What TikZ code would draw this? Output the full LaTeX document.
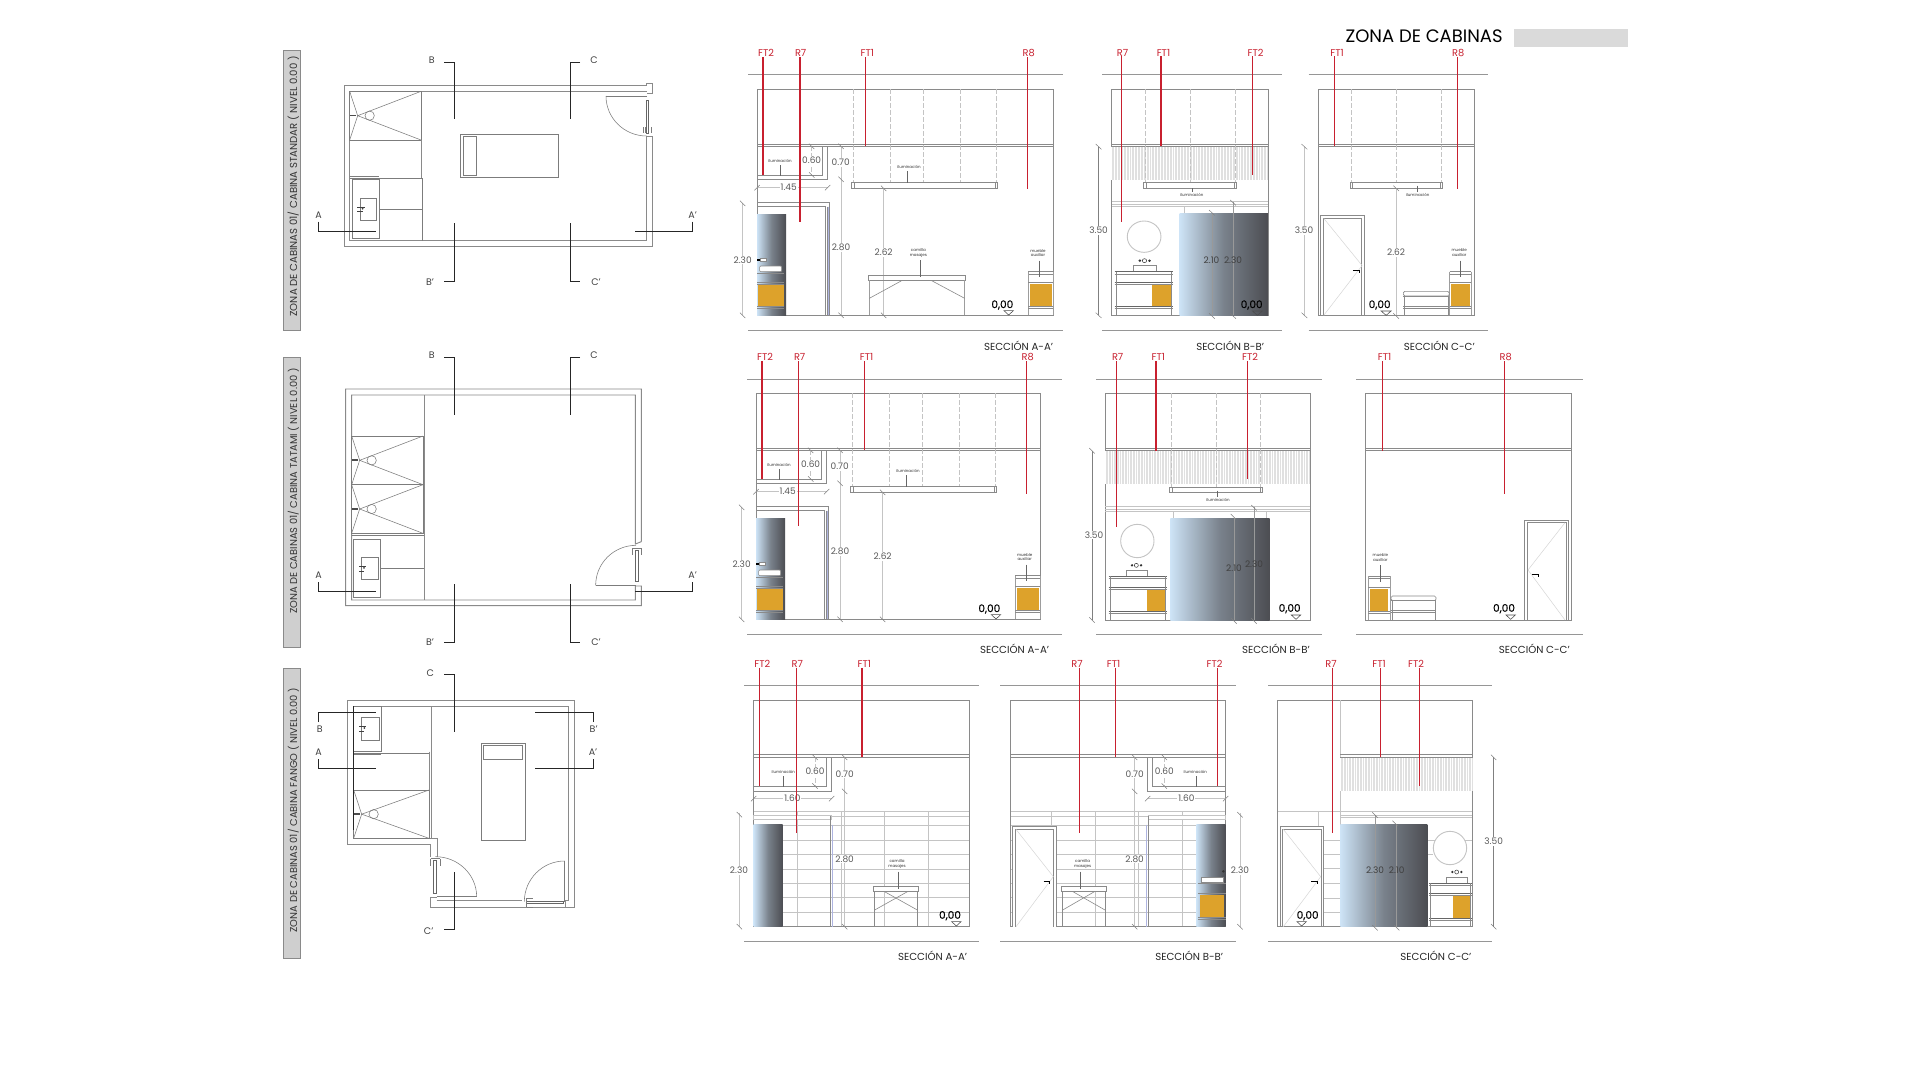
\documentclass[tikz,border=0pt]{standalone}
\usepackage{fontspec}
\setmainfont{Poppins}
\newfontfamily\levelfont[FakeBold=0.6]{Poppins}
\definecolor{wallgray}{HTML}{8A8A8A}
\definecolor{lightgray2}{HTML}{C4C4C4}
\definecolor{boxgray}{HTML}{CFCFCF}
\definecolor{titlegray}{HTML}{DADADA}
\definecolor{redmark}{HTML}{C8202F}
\definecolor{ochre}{HTML}{DDA22B}
\definecolor{glassblue}{HTML}{CDE3F6}
\definecolor{glassdark}{HTML}{4C4D52}
\definecolor{bluefine}{HTML}{AEB4E0}
\tikzset{
  panel/.style 2 args={x=0.33333pt,y=-0.33333pt,shift={(#1pt,-#2pt)}},
  widepanel/.style={x=0.3585pt,y=-0.33333pt,shift={(1095pt,-20pt)}},
  wall/.style={draw=wallgray,line width=0.6pt},
  thinwall/.style={draw=wallgray!90!black,line width=0.55pt},
  tile/.style={draw=lightgray2,line width=0.5pt},
  dashwall/.style={draw=lightgray2,line width=0.6pt,dash pattern=on 5pt off 2pt},
  rule/.style={draw=wallgray!90,line width=0.7pt},
  planwall/.style={draw=wallgray,line width=0.95pt},
  cutline/.style={draw=black!85,line width=0.8pt},
  redline/.style={draw=redmark,line width=1.2pt},
  redlabel/.style={text=redmark,font=\fontsize{9.8}{10}\selectfont,inner sep=0pt},
  dimline/.style={draw=lightgray2,line width=0.5pt},
  dimtext/.style={text=black!65,font=\fontsize{9}{10}\selectfont,inner sep=0pt},
  tinytext/.style={text=black!80,font=\fontsize{4}{4.6}\selectfont,inner sep=0pt,align=center},
  sectitle/.style={text=black!85,font=\fontsize{10.2}{11}\selectfont,inner sep=0pt,anchor=east},
  levelmark/.style={text=black,font=\fontsize{10.5}{11}\levelfont,inner sep=0pt},
  planlabel/.style={text=black!75,font=\fontsize{9.5}{10}\selectfont,inner sep=0pt},
  sidebox/.style={fill=boxgray,draw=wallgray,line width=0.4pt},
  sidetext/.style={rotate=90,text=black!80,font=\fontsize{10.1}{11}\selectfont,inner sep=0pt},
}
% red leader with its label
\newcommand{\leader}[6]{%
  \node[redlabel] (#1) at (#3,#4) {#2};
  \coordinate (#1e) at (#5,#6);
  \draw[redline] (#1e |- #1.south) -- (#1e);}
\newcommand{\ticks}[2]{\draw[dimline,draw=black!50] (#1-8,#2-8) -- (#1+8,#2+8);}
\newcommand{\rticks}[2]{\draw[dimline,draw=black!50] (#1-8,#2+8) -- (#1+8,#2-8);}
% level mark
\newcommand{\level}[5]{%
  \node[levelmark] (#1) at (#2,#3) {0,00};
  \draw[thinwall,draw=black!70] (#4-14,#5) -- (#4+14,#5) -- (#4,#5+13) -- cycle;}
% top and bottom rule of a section
\newcommand{\rules}[4]{%
  \draw[rule] (#1,#3) -- (#2,#3);
  \draw[rule] (#1,#4) -- (#2,#4);}
\newcommand{\lamp}[4]{%
  \draw[wall,fill=white] (#1,#3) rectangle (#2,#4);
  \draw[wall] (#1+7,#3) -- (#1+7,#4);
  \draw[wall] (#2-7,#3) -- (#2-7,#4);}
\newcommand{\hatchband}[4]{%
  \fill[black!12] (#1,#3) rectangle (#2,#4);
  \foreach \xh in {#1,\numexpr#1+8\relax,...,#2} {\draw[white,line width=0.35pt] (\xh,#3) -- (\xh,#4);}}
\newcommand{\glassbox}[4]{%
  \shade[left color=glassblue,right color=glassdark,middle color=glassblue!35!glassdark] (#1,#3) rectangle (#2,#4);}
% mirror, basin and counter seen from the front
\newcommand{\sinkface}[3]{%
  \draw[wall] (#1+52,#3-131) rectangle (#1+115,#3-149);
  \fill[black!80] (#1+70,#3-164) circle (4) (#1+97,#3-164) circle (4);
  \draw[black!80,line width=0.5pt] (#1+83,#3-164) circle (6);
  \draw[wall,line width=0.8pt,draw=black!60] (#1,#3-131) -- (#2,#3-131);
  \draw[wall] (#1,#3-124) -- (#2,#3-124);
  \draw[wall,line width=0.9pt,draw=black!60] (#1,#3-99) -- (#2,#3-99);
  \draw[wall] (#1,#3-93) -- (#2,#3-93);
  \fill[ochre] (#2-58,#3-91) rectangle (#2-2,#3-26);
  \draw[wall,line width=0.9pt,draw=black!60] (#1,#3-26) -- (#2,#3-26);
  \draw[wall] (#1,#3-20) -- (#2,#3-20);
  \draw[wall] (#1+4,#3-131) -- (#1+4,#3);
  \draw[wall] (#2-4,#3-131) -- (#2-4,#3);}
\newcommand{\auxface}[3]{%
  \draw[wall] (#1,#3-131) -- (#2,#3-131) (#1,#3-124) -- (#2,#3-124);
  \draw[wall,line width=1pt,draw=lightgray2!80!black] (#1,#3-131) -- (#1,#3) (#2,#3-131) -- (#2,#3);
  \fill[ochre] (#1+5,#3-94) rectangle (#2-5,#3-26);
  \draw[wall] (#1,#3-99) -- (#2,#3-99) (#1,#3-26) -- (#2,#3-26) (#1,#3-20) -- (#2,#3-20);}
\newcommand{\benchface}[3]{%
  \draw[wall,rounded corners=1.5pt] (#1,#3-58) rectangle (#2,#3-72);
  \draw[wall] (#1,#3-58) -- (#2,#3-58) (#1,#3-28) -- (#2,#3-28) (#1,#3-22) -- (#2,#3-22);
  \draw[wall] (#1+3,#3-58) -- (#1+3,#3) (#2-3,#3-58) -- (#2-3,#3);}
\newcommand{\doorface}[7]{%
  \draw[wall,line width=0.9pt] (#1,#4) |- (#3,#2) -- (#3,#4);
  \draw[wall] (#1+8,#4) |- (#3-7,#2+8) -- (#3-7,#4);
  \draw[tile,draw=lightgray2!70] (#5,#2+8) -- (#6,{(#2+#4)/2}) -- (#5,#4);
  \draw[black,line width=0.7pt] (#7-9,{(#2+#4)/2+14}) -- (#7+9,{(#2+#4)/2+14}) -- (#7+9,{(#2+#4)/2+22});}
% plan fixtures
\newcommand{\showerplan}[4]{%
  \draw[thinwall,fill=white] (#1,#2) rectangle (#3,#4);
  \draw[thinwall] (#1,#2) -- (#1+24,{(#2+#4)/2}) -- (#1,#4);
  \draw[thinwall] (#3,#2) -- (#1+24,{(#2+#4)/2}) -- (#3,#4);
  \draw[thinwall] (#1+60,{(#2+#4)/2}) circle (14);
  \fill[black!70] (#1,{(#2+#4)/2-3}) rectangle (#1+20,{(#2+#4)/2+2});}
\newcommand{\basinplan}[4]{%
  \draw[thinwall] (#1,#2) rectangle (#3,#4);
  \fill[black!75] (#1-8,{(#2+#4)/2-8}) rectangle (#1+14,{(#2+#4)/2-6});
  \fill[black!75] (#1-8,{(#2+#4)/2+6}) rectangle (#1+8,{(#2+#4)/2+9});
  \fill[black!75] (#1+8,{(#2+#4)/2-2}) circle (3);}
% common left part of cabin sections A-A'
\newcommand{\secAcommon}[1]{%
  \draw[wall] (81,178) rectangle (#1,856);
  \draw[wall] (81,342) -- (#1,342) (81,349) -- (#1,349);
  \foreach \xd in {369,482,581,692,800} {\draw[dashwall] (\xd,178) -- (\xd,458);}
  \draw[wall] (81,448) -- (293,448) -- (293,349) (278,349) -- (278,435) -- (81,435);
  \lamp{365}{803}{458}{475}
  \node[tinytext] (nicheA) at (150,393) {iluminación};
  \draw[thinwall,draw=black!60] (150,405) -- (150,437);
  \node[tinytext] (lampA) at (537,412) {iluminación};
  \draw[thinwall,draw=black!60] (533,424) -- (533,458);
  \draw[dashwall,line width=0.4pt] (245,349) -- (245,435);
  \draw[dimline] (333,349) -- (333,856);
  \draw[dimline] (461,475) -- (461,856);
  \draw[dimline] (38,520) -- (38,856);
  \draw[dimline] (81,473) -- (293,473);
  \ticks{245}{349}\ticks{245}{435}\ticks{333}{349}\ticks{333}{448}\ticks{333}{856}
  \ticks{461}{475}\ticks{461}{856}\ticks{38}{520}\ticks{38}{856}
  \rticks{81}{473}\rticks{293}{473}
  \node[dimtext,fill=white,inner sep=1pt] (dimSixA) at (245,392) {0.60};
  \node[dimtext,fill=white,inner sep=1pt] (dimSevA) at (332,398) {0.70};
  \node[dimtext,fill=white,inner sep=1pt] (dimWidA) at (176,473) {1.45};
  \node[dimtext,fill=white,inner sep=1pt] (dimDoorA) at (333,653) {2.80};
  \node[dimtext,fill=white,inner sep=1pt] (dimLampA) at (461,667) {2.62};
  \node[dimtext,fill=white,inner sep=1pt] (dimGlassA) at (38,690) {2.30};
  \draw[wall] (81,517) -- (299,517) -- (299,856) (81,530) -- (285,530) -- (285,856) (291,530) -- (291,856);
  \draw[bluefine,line width=0.6pt] (295,530) -- (295,856);
  \glassbox{81}{168}{552}{856}
  \fill[ochre] (85,762) rectangle (161,830);
  \draw[wall] (81,730) -- (161,730) (81,757) -- (161,757) (81,762) -- (161,762) (81,830) -- (161,830) (81,835) -- (161,835);
  \draw[wall,fill=white,rounded corners=1pt] (89,708) rectangle (155,725);
  \fill[black] (82,686) rectangle (90,694);
  \draw[wall,fill=white] (90,686) rectangle (108,694);}
\begin{document}
\begin{tikzpicture}
\useasboundingbox (0pt,0pt) rectangle (1920pt,-1080pt);
\fill[white] (0pt,0pt) rectangle (1920pt,-1080pt);

%title
\begin{scope}[widepanel]
  \node[inner sep=0pt,font=\fontsize{18}{19}\selectfont,text=black] (mainTitle) at (918,50) {ZONA DE CABINAS};
  \fill[titlegray] (1168,28) rectangle (1488,80);
\end{scope}

%plan standar
\begin{scope}[panel={270}{30}]
  \draw[sidebox] (40,60) rectangle (92,900);
  \node[sidetext] (sideA) at (70,469) {ZONA DE CABINAS 01/ CABINA STANDAR ( NIVEL 0.00 )};
  \draw[planwall] (1146,160) -- (1146,190) -- (1130,190) (1130,160) -- (1146,160) (1130,160) -- (1130,167) -- (222,167) -- (222,650) -- (1146,650) -- (1146,320) -- (1128,320) -- (1128,632) -- (239,632) -- (239,184) -- (1130,184);
  \showerplan{239}{184}{453}{330}
  \draw[planwall] (453,330) -- (453,445);
  \draw[thinwall] (239,445) -- (458,445) -- (458,632) (327,537) -- (458,537);
  \draw[thinwall] (247,448) rectangle (327,625);
  \draw[thinwall] (239,440) -- (327,440);
  \basinplan{270}{505}{320}{571}
  \draw[thinwall] (572,312) rectangle (864,443);
  \draw[thinwall] (580,320) rectangle (620,436);
  \draw[thinwall] (1008,198) -- (1130,198);
  \draw[thinwall] (1008,198) arc (180:90:122 and 120);
  \draw[thinwall,line width=0.8pt,draw=black!60] (1128,210) rectangle (1136,310);
  \draw[thinwall] (1119,292) -- (1119,310) (1126,292) -- (1126,310) (1144,292) -- (1144,310);
  \draw[cutline] (523,96) -- (552,96) -- (552,268);
  \draw[cutline] (930,96) -- (902,96) -- (902,268);
  \draw[cutline] (552,580) -- (552,754) -- (523,754);
  \draw[cutline] (902,580) -- (902,754) -- (930,754);
  \draw[cutline] (144,575) -- (144,603) -- (317,603);
  \draw[cutline] (1268,575) -- (1268,603) -- (1094,603);
  \node[planlabel] (aS) at (146,555) {A};
  \node[planlabel] (apS) at (1268,555) {A'};
  \node[planlabel] (bS) at (485,92) {B};
  \node[planlabel] (bpS) at (480,757) {B'};
  \node[planlabel] (cS) at (972,92) {C};
  \node[planlabel] (cpS) at (978,757) {C'};
\end{scope}

%plan tatami
\begin{scope}[panel={270}{350}]
  \draw[sidebox] (40,22) rectangle (92,892);
  \node[sidetext,font=\fontsize{9.9}{11}\selectfont] (sideB) at (70,423) {ZONA DE CABINAS 01/ CABINA TATAMI ( NIVEL 0.00 )};
  \draw[planwall] (1114,575) -- (1114,117) -- (227,117) -- (227,767) -- (1114,767) -- (1114,708) -- (1096,708) -- (1096,750) -- (245,750) -- (245,135) -- (1096,135) -- (1096,582) -- (1114,575);
  \draw[planwall] (463,135) -- (463,750);
  \showerplan{245}{258}{459}{404}
  \showerplan{245}{404}{459}{550}
  \draw[thinwall] (245,550) -- (463,550) (245,556) -- (463,556);
  \draw[thinwall] (251,569) rectangle (332,743);
  \draw[thinwall] (332,656) -- (463,656);
  \basinplan{274}{622}{326}{689}
  \draw[thinwall] (977,706) -- (1098,706);
  \draw[thinwall] (977,706) arc (180:270:121 and 120);
  \draw[thinwall,line width=0.8pt,draw=black!60] (1096,600) rectangle (1105,695);
  \draw[thinwall] (1088,594) -- (1088,614) (1114,594) -- (1114,614) (1088,594) -- (1114,594);
  \draw[cutline] (523,22) -- (552,22) -- (552,194);
  \draw[cutline] (930,22) -- (902,22) -- (902,194);
  \draw[cutline] (552,702) -- (552,876) -- (523,876);
  \draw[cutline] (902,702) -- (902,876) -- (930,876);
  \draw[cutline] (144,696) -- (144,724) -- (317,724);
  \draw[cutline] (1268,696) -- (1268,724) -- (1094,724);
  \node[planlabel] (aT) at (146,677) {A};
  \node[planlabel] (apT) at (1268,677) {A'};
  \node[planlabel] (bT) at (485,15) {B};
  \node[planlabel] (bpT) at (480,878) {B'};
  \node[planlabel] (cT) at (972,15) {C};
  \node[planlabel] (cpT) at (978,878) {C'};
\end{scope}

%plan fango
\begin{scope}[panel={270}{660}]
  \draw[sidebox] (40,26) rectangle (92,896);
  \node[sidetext,font=\fontsize{9.9}{11}\selectfont] (sideC) at (70,450) {ZONA DE CABINAS 01/ CABINA FANGO ( NIVEL 0.00 )};
  \draw[planwall] (482,590) -- (482,553) -- (233,553) -- (233,121) -- (913,121) -- (913,741) -- (757,741);
  \draw[planwall] (757,741) -- (482,741) -- (482,712) -- (500,712);
  \draw[planwall] (501,590) -- (501,535) -- (251,535);
  \draw[planwall] (885,741) -- (885,722) -- (895,722) -- (895,139) -- (251,139);
  \draw[planwall] (500,722) -- (757,722);
  \draw[planwall] (484,139) -- (484,275) (477,275) -- (477,535) (484,275) -- (484,535);
  \draw[thinwall] (251,280) -- (477,280);
  \showerplan{251}{390}{477}{535}
  \draw[thinwall] (251,139) rectangle (333,275);
  \draw[thinwall] (251,283) -- (333,283);
  \basinplan{275}{172}{327}{240}
  \draw[cutline,line width=0.7pt] (250,139) -- (250,510);
  \draw[thinwall] (633,250) rectangle (766,542);
  \draw[thinwall] (640,257) rectangle (758,298);
  \draw[thinwall] (500,710) -- (620,710);
  \draw[thinwall] (620,710) arc (0:-90:124 and 120);
  \draw[thinwall,line width=0.8pt,draw=black!60] (491,600) rectangle (500,700);
  \draw[thinwall] (482,596) -- (510,596) (482,596) -- (482,618) (510,596) -- (510,618);
  \draw[thinwall] (884,603) -- (884,725);
  \draw[thinwall] (884,603) arc (270:180:121 and 122);
  \draw[thinwall,line width=0.8pt,draw=black!60] (770,723) rectangle (880,730);
  \draw[thinwall] (770,714) -- (790,714) (770,714) -- (770,741) (770,741) -- (790,741);
  \draw[cutline] (523,44) -- (552,44) -- (552,216);
  \draw[cutline] (552,636) -- (552,808) -- (523,808);
  \draw[cutline] (144,186) -- (144,158) -- (317,158);
  \draw[cutline] (970,186) -- (970,158) -- (796,158);
  \draw[cutline] (144,298) -- (144,325) -- (317,325);
  \draw[cutline] (970,298) -- (970,325) -- (796,325);
  \node[planlabel] (cF) at (481,38) {C};
  \node[planlabel] (cpF) at (476,812) {C'};
  \node[planlabel] (bF) at (149,207) {B};
  \node[planlabel] (bpF) at (971,207) {B'};
  \node[planlabel] (aF) at (146,278) {A};
  \node[planlabel] (apF) at (969,278) {A'};
\end{scope}

%standar A-A
\begin{scope}[panel={730}{30}]
  \rules{54}{1000}{134}{900}
  \secAcommon{970}
  \draw[wall] (416,737) rectangle (706,750);
  \draw[wall,line width=1pt,draw=lightgray2!80!black] (418,750) -- (418,856) (703,750) -- (703,856);
  \draw[wall] (418,805) -- (515,752) (605,752) -- (704,805);
  \node[tinytext] (tableA) at (565,669) {camilla\\masajes};
  \draw[thinwall,draw=black!60] (570,690) -- (570,742);
  \auxface{894}{970}{856}
  \node[tinytext] (auxA) at (924,669) {mueble\\auxiliar};
  \draw[thinwall,draw=black!60] (927,692) -- (927,742);
  \level{levA}{817}{825}{836}{842}
  \leader{ft2A}{FT2}{108}{70}{99}{435}
  \leader{r7A}{R7}{212}{70}{210}{575}
  \leader{ft1A}{FT1}{412}{70}{406}{348}
  \leader{r8A}{R8}{896}{70}{892}{478}
  \node[sectitle] (titleA) at (970,947) {SECCIÓN A-A'};
\end{scope}

%standar B-B
\begin{scope}[widepanel]
  \rules{20}{521}{164}{930}
  \draw[wall] (46,207) rectangle (482,886);
  \hatchband{46}{482}{380}{481}
  \draw[wall] (46,372) -- (482,372) (46,380) -- (482,380);
  \foreach \xd in {139,265,390} {\draw[dashwall] (\xd,207) -- (\xd,488);}
  \lamp{135}{395}{488}{505}
  \draw[thinwall,draw=black!60] (270,505) -- (270,516);
  \node[tinytext] (lampB) at (270,526) {iluminación};
  \draw[tile] (46,545) -- (482,545) (46,552) -- (482,552) (46,560) -- (482,560);
  \draw[tile] (250,560) -- (250,581) (385,560) -- (385,581);
  \glassbox{236}{482}{581}{886}
  \draw[dimline,draw=black!40] (326,581) -- (326,886) (385,545) -- (385,886);
  \draw[dimline,draw=black!50] (10,380) -- (10,886);
  \ticks{326}{578}\ticks{326}{888}\ticks{385}{548}\ticks{385}{888}\ticks{10}{380}\ticks{10}{886}
  \draw[lightgray2,line width=0.9pt,fill=white] (137,650) circle (47);
  \sinkface{55}{218}{886}
  \node[dimtext,text=black!75] (dimBa) at (325,720) {2.10};
  \node[dimtext,text=black!75] (dimBb) at (385,720) {2.30};
  \node[dimtext,fill=white,inner sep=1pt] (dimBc) at (10,632) {3.50};
  \level{levB}{437}{855}{453}{873}
  \leader{r7B}{R7}{77}{98}{74}{605}
  \leader{ft1B}{FT1}{191}{98}{184}{378}
  \leader{ft2B}{FT2}{448}{98}{440}{465}
  \node[sectitle] (titleB) at (472,977) {SECCIÓN B-B'};
\end{scope}

%standar C-C
\begin{scope}[widepanel]
  \rules{596}{1096}{164}{930}
  \draw[wall] (623,207) rectangle (1057,886);
  \draw[wall] (623,372) -- (1057,372) (623,380) -- (1057,380);
  \foreach \xd in {715,840,966} {\draw[dashwall] (\xd,207) -- (\xd,488);}
  \lamp{712}{970}{488}{505}
  \draw[thinwall,draw=black!60] (900,497) -- (900,516);
  \node[tinytext] (lampC) at (900,526) {iluminación};
  \draw[dimline] (840,505) -- (840,886) (584,380) -- (584,886);
  \ticks{840}{505}\ticks{840}{888}\ticks{584}{380}\ticks{584}{886}
  \doorface{628}{587}{751}{886}{638}{745}{728}
  \auxface{989}{1050}{886}
  \benchface{860}{988}{886}
  \draw[thinwall,draw=black!60] (1018,722) -- (1018,772);
  \node[tinytext] (auxC) at (1016,698) {mueble\\auxiliar};
  \node[dimtext,fill=white,inner sep=1pt] (dimCa) at (840,697) {2.62};
  \node[dimtext,fill=white,inner sep=1pt] (dimCb) at (583,632) {3.50};
  \level{levC}{794}{855}{812}{873}
  \leader{ft1C}{FT1}{675}{98}{669}{378}
  \leader{r8C}{R8}{1013}{98}{1010}{508}
  \node[sectitle] (titleC) at (1060,977) {SECCIÓN C-C'};
\end{scope}

%tatami A-A
\begin{scope}[panel={729}{334}]
  \rules{54}{1000}{135}{901}
  \secAcommon{934}
  \auxface{859}{934}{856}
  \node[tinytext] (auxD) at (887,669) {mueble\\auxiliar};
  \draw[thinwall,draw=black!60] (891,692) -- (891,742);
  \level{levD}{781}{825}{801}{842}
  \leader{ft2D}{FT2}{108}{70}{99}{435}
  \leader{r7D}{R7}{212}{70}{209}{575}
  \leader{ft1D}{FT1}{413}{70}{407}{348}
  \leader{r8D}{R8}{896}{70}{892}{480}
  \node[sectitle] (titleD) at (961,945) {SECCIÓN A-A'};
\end{scope}

%tatami B-B
\begin{scope}[panel={1090}{340}]
  \rules{18}{697}{117}{883}
  \draw[wall] (46,160) rectangle (661,840);
  \hatchband{46}{661}{332}{432}
  \draw[wall] (46,325) -- (661,325) (46,332) -- (661,332);
  \foreach \xd in {243,378,512} {\draw[dashwall] (\xd,160) -- (\xd,441);}
  \lamp{239}{517}{441}{458}
  \draw[thinwall,draw=black!60] (382,452) -- (382,470);
  \node[tinytext] (lampE) at (384,479) {iluminación};
  \draw[tile] (46,500) -- (661,500) (46,507) -- (661,507) (46,514) -- (661,514);
  \draw[tile] (250,514) -- (250,534) (530,514) -- (530,534);
  \glassbox{241}{539}{534}{840}
  \draw[dimline,draw=black!40] (432,534) -- (432,840) (492,500) -- (492,840);
  \draw[dimline,draw=black!50] (6,332) -- (6,840);
  \ticks{430}{530}\ticks{432}{843}\ticks{492}{503}\ticks{492}{843}\ticks{6}{332}\ticks{6}{840}
  \draw[lightgray2,line width=0.9pt,fill=white] (142,603) circle (50);
  \sinkface{56}{230}{840}
  \node[dimtext,text=black!75] (dimEa) at (432,686) {2.10};
  \node[dimtext,text=black!75] (dimEb) at (492,672) {2.30};
  \node[dimtext,fill=white,inner sep=1pt] (dimEc) at (12,585) {3.50};
  \level{levE}{599}{806}{618}{825}
  \leader{r7E}{R7}{83}{52}{80}{560}
  \leader{ft1E}{FT1}{205}{52}{198}{332}
  \leader{ft2E}{FT2}{480}{52}{472}{418}
  \node[sectitle] (titleE) at (660,927) {SECCIÓN B-B'};
\end{scope}

%tatami C-C
\begin{scope}[panel={1090}{340}]
  \rules{798}{1480}{117}{883}
  \draw[wall] (827,160) rectangle (1443,840);
  \draw[wall] (827,325) -- (1443,325) (827,332) -- (1443,332);
  \doorface{1304}{540}{1435}{840}{1425}{1314}{1335}
  \auxface{835}{900}{840}
  \benchface{903}{1038}{840}
  \draw[thinwall,draw=black!60] (870,675) -- (870,725);
  \node[tinytext] (auxF) at (871,652) {mueble\\auxiliar};
  \level{levF}{1242}{806}{1262}{825}
  \leader{ft1F}{FT1}{884}{52}{878}{332}
  \leader{r8F}{R8}{1247}{52}{1244}{462}
  \node[sectitle] (titleF) at (1440,927) {SECCIÓN C-C'};
\end{scope}

%fango A-A
\begin{scope}[panel={730}{650}]
  \rules{42}{746}{107}{873}
  \foreach \yt in {483,500,527,572,614,657,700,743,787} {\draw[tile] (71,\yt) -- (718,\yt);}
  \foreach \xt in {203,333,464,596} {\draw[tile] (\xt,483) -- (\xt,830);}
  \draw[wall] (71,151) rectangle (718,830);
  \draw[wall] (71,314) -- (718,314) (71,322) -- (718,322);
  \draw[wall] (71,424) -- (305,424) -- (305,322) (290,322) -- (290,410) -- (71,410);
  \draw[tile,fill=white] (71,497) rectangle (305,508);
  \draw[wall] (300,497) -- (300,830);
  \draw[bluefine,line width=0.7pt] (308,524) -- (308,830);
  \glassbox{71}{158}{524}{830}
  \draw[dimline] (344,322) -- (344,830) (28,490) -- (28,830) (71,446) -- (305,446);
  \draw[dashwall,line width=0.4pt] (255,322) -- (255,410);
  \ticks{255}{322}\ticks{255}{408}\ticks{344}{322}\ticks{344}{424}\ticks{344}{830}\ticks{28}{494}\ticks{28}{830}
  \rticks{71}{446}\rticks{305}{446}
  \node[dimtext,fill=white,inner sep=1pt] (dimGa) at (255,365) {0.60};
  \node[dimtext,fill=white,inner sep=1pt] (dimGb) at (344,372) {0.70};
  \node[dimtext,fill=white,inner sep=1pt] (dimGc) at (187,446) {1.60};
  \node[dimtext,fill=white,inner sep=1pt] (dimGd) at (344,627) {2.80};
  \node[dimtext,fill=white,inner sep=1pt] (dimGe) at (27,662) {2.30};
  \node[tinytext] (nicheG) at (160,366) {iluminación};
  \draw[thinwall,draw=black!60] (160,378) -- (160,412);
  \draw[wall,fill=white] (431,710) rectangle (565,724);
  \draw[wall,line width=1pt] (434,724) -- (434,830) (562,724) -- (562,830);
  \draw[wall] (434,780) -- (534,724) (462,724) -- (562,780);
  \node[tinytext] (tableG) at (501,642) {camilla\\masajes};
  \draw[thinwall,draw=black!60] (505,665) -- (505,716);
  \level{levG}{660}{797}{679}{815}
  \leader{ft2G}{FT2}{97}{42}{89}{408}
  \leader{r7G}{R7}{202}{42}{199}{548}
  \leader{ft1G}{FT1}{403}{42}{396}{322}
  \node[sectitle] (titleG) at (712,917) {SECCIÓN A-A'};
\end{scope}

%fango B-B
\begin{scope}[panel={730}{650}]
  \rules{811}{1517}{107}{873}
  \foreach \yt in {483,500,527,572,614,657,700,743,787} {\draw[tile] (841,\yt) -- (1487,\yt);}
  \foreach \xt in {965,1095,1226,1357} {\draw[tile] (\xt,483) -- (\xt,830);}
  \draw[wall] (841,151) rectangle (1487,830);
  \draw[wall] (841,314) -- (1487,314) (841,322) -- (1487,322);
  \draw[wall] (1253,322) -- (1253,424) -- (1487,424) (1268,322) -- (1268,410) -- (1487,410);
  \draw[tile,fill=white] (1255,497) rectangle (1487,508);
  \draw[wall] (1255,497) -- (1255,830);
  \draw[bluefine,line width=0.7pt] (1250,524) -- (1250,830);
  \draw[wall,fill=white,draw=none] (848,530) rectangle (978,830);
  \doorface{848}{530}{978}{830}{858}{970}{950}
  \glassbox{1399}{1487}{524}{830}
  \fill[ochre] (1410,735) rectangle (1482,802);
  \draw[wall] (1405,700) -- (1487,700) (1405,730) -- (1487,730) (1405,802) -- (1487,802) (1405,808) -- (1487,808);
  \draw[wall,fill=white] (1414,682) rectangle (1480,698);
  \fill[black!80] (1480,664) circle (4);
  \draw[dimline] (1214,322) -- (1214,830) (1530,490) -- (1530,830) (1253,446) -- (1487,446);
  \draw[dashwall,line width=0.4pt] (1303,322) -- (1303,410);
  \ticks{1303}{322}\ticks{1303}{408}\ticks{1214}{322}\ticks{1214}{424}\ticks{1214}{830}\ticks{1530}{494}\ticks{1530}{830}
  \rticks{1253}{446}\rticks{1487}{446}
  \node[dimtext,fill=white,inner sep=1pt] (dimHa) at (1303,365) {0.60};
  \node[dimtext,fill=white,inner sep=1pt] (dimHb) at (1214,372) {0.70};
  \node[dimtext,fill=white,inner sep=1pt] (dimHc) at (1369,446) {1.60};
  \node[dimtext,fill=white,inner sep=1pt] (dimHd) at (1214,627) {2.80};
  \node[dimtext,fill=white,inner sep=1pt] (dimHe) at (1530,662) {2.30};
  \node[tinytext] (nicheH) at (1396,366) {iluminación};
  \draw[thinwall,draw=black!60] (1398,378) -- (1398,412);
  \draw[wall,fill=white] (995,710) rectangle (1128,724);
  \draw[wall,line width=1pt] (998,724) -- (998,830) (1125,724) -- (1125,830);
  \draw[wall] (998,780) -- (1095,724) (1027,724) -- (1125,780);
  \node[tinytext] (tableH) at (1058,642) {camilla\\masajes};
  \draw[thinwall,draw=black!60] (1052,665) -- (1052,716);
  \leader{r7H}{R7}{1041}{42}{1048}{548}
  \leader{ft1H}{FT1}{1151}{42}{1157}{322}
  \leader{ft2H}{FT2}{1454}{42}{1463}{408}
  \node[sectitle] (titleH) at (1480,917) {SECCIÓN B-B'};
\end{scope}

%fango C-C
\begin{scope}[panel={1220}{650}]
  \rules{145}{817}{107}{873}
  \foreach \yt in {570,612,656,700,744,787} {\draw[tile] (310,\yt) -- (361,\yt);}
  \draw[tile] (172,483) -- (758,483) (361,495) -- (758,495) (361,503) -- (758,503) (622,570) -- (758,570) (622,612) -- (640,612);
  \draw[tile] (295,483) -- (295,530);
  \draw[wall] (172,151) rectangle (758,830);
  \draw[tile] (361,151) -- (361,524);
  \hatchband{361}{758}{322}{424}
  \draw[wall] (361,314) -- (758,314) (361,322) -- (758,322);
  \doorface{180}{530}{310}{830}{190}{302}{283}
  \glassbox{361}{622}{524}{830}
  \draw[dimline,draw=black!40] (465,495) -- (465,830) (530,522) -- (530,830);
  \draw[dimline,draw=black!50] (821,322) -- (821,830);
  \ticks{465}{495}\ticks{465}{833}\ticks{525}{520}\ticks{530}{833}\ticks{821}{322}\ticks{821}{830}
  \draw[lightgray2,line width=0.9pt,fill=white] (690,594) circle (50);
  \sinkface{627}{756}{830}
  \node[dimtext,text=black!75] (dimIa) at (465,662) {2.30};
  \node[dimtext,text=black!75] (dimIb) at (530,662) {2.10};
  \node[dimtext,fill=white,inner sep=1pt] (dimIc) at (821,575) {3.50};
  \level{levI}{263}{797}{245}{815}
  \leader{r7I}{R7}{333}{42}{338}{548}
  \leader{ft1I}{FT1}{477}{42}{481}{322}
  \leader{ft2I}{FT2}{588}{42}{598}{408}
  \node[sectitle] (titleI) at (755,917) {SECCIÓN C-C'};
\end{scope}
\end{tikzpicture}
\end{document}
